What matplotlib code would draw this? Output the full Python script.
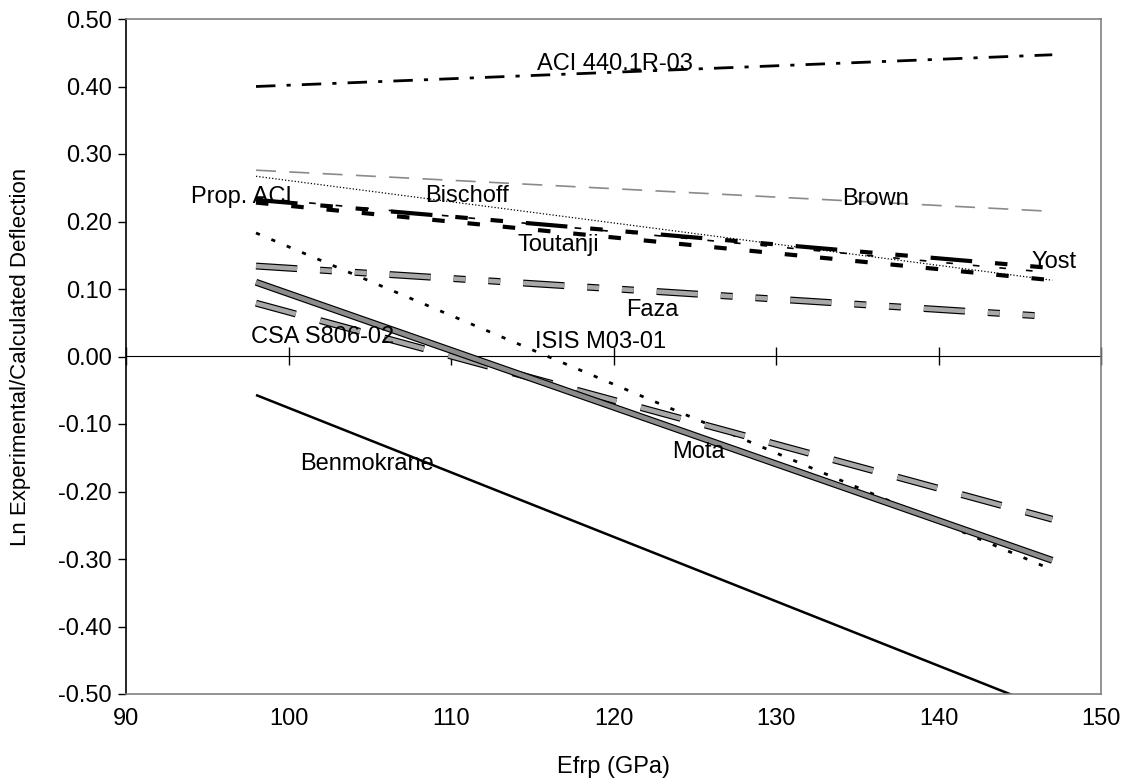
import matplotlib
matplotlib.use("Agg")
import matplotlib.pyplot as plt
import matplotlib.patheffects as pe
import numpy as np

plt.rcParams["font.family"] = ["Liberation Sans", "DejaVu Sans"]
plt.rcParams["axes.unicode_minus"] = False

# Efrp (GPa) at the two ends of every line
efrp = [98, 147]

# Ln(experimental / calculated deflection)
aci_440 = [0.400, 0.447]
brown = [0.276, 0.215]
bischoff = [0.267, 0.113]
prop_aci = [0.235, 0.124]
yost = [0.232, 0.131]
toutanji = [0.228, 0.113]
isis = [0.183, -0.316]
faza = [0.134, 0.059]
mota = [0.110, -0.302]
csa = [0.079, -0.241]
benmokrane = [-0.057, -0.525]

x_ticks = [90, 100, 110, 120, 130, 140, 150]
y_ticks = [-0.5, -0.4, -0.3, -0.2, -0.1, 0.0, 0.1, 0.2, 0.3, 0.4, 0.5]

W, H = 1133, 783
fig = plt.figure(figsize=(W / 100, H / 100), dpi=100)
ax = fig.add_axes([126 / W, 1 - 694 / H, (1101 - 126) / W, (694 - 19) / H])

hatched = [pe.Stroke(linewidth=5.0, foreground="black"), pe.Normal()]


def line(y, color="black", lw=1.5, dashes=None, effects=None):
    ln, = ax.plot(efrp, y, color=color, lw=lw, solid_capstyle="butt",
                  dash_capstyle="butt")
    if dashes is not None:
        ln.set_dashes(dashes)
    if effects is not None:
        ln.set_path_effects(effects)
    return ln


line(aci_440, lw=2.0, dashes=(7, 4, 1.5, 4))
line(brown, color="#8a8a8a", lw=1.2, dashes=(12, 8))
line(bischoff, lw=0.9, dashes=(1, 1.6))
line(prop_aci, lw=1.2, dashes=(4, 12))
line(yost, lw=3.0, dashes=(10, 5.5, 3, 5.5, 3, 5.5))
line(toutanji, lw=3.0, dashes=(3, 5.5))
line(isis, lw=2.0, dashes=(1.5, 4.5))
line(faza, color="#a8a8a8", lw=3.3, dashes=(9, 5, 2.6, 5, 2.6, 5), effects=hatched)
line(csa, color="#a8a8a8", lw=3.3, dashes=(9, 5.5), effects=hatched)
line(mota, color="#8c8c8c", lw=3.3, effects=hatched)
line(benmokrane, lw=1.8)

labels = [
    ("ACI 440.1R-03", 120.1, 0.433),
    ("Brown", 136.1, 0.233),
    ("Bischoff", 111.0, 0.238),
    ("Prop. ACI", 97.1, 0.236),
    ("Toutanji", 116.6, 0.165),
    ("Yost", 147.1, 0.140),
    ("Faza", 122.4, 0.069),
    ("ISIS M03-01", 119.2, 0.021),
    ("CSA S806-02", 102.1, 0.029),
    ("Mota", 125.2, -0.141),
    ("Benmokrane", 104.8, -0.159),
]
for text, lx, ly in labels:
    ax.text(lx, ly, text, fontsize=17, ha="center", va="center", zorder=5)

ax.set_xlim(90, 150)
ax.set_ylim(-0.5, 0.5)
ax.set_xticks(x_ticks)
ax.set_yticks(y_ticks)
ax.set_yticklabels([f"{v:.2f}" for v in y_ticks])
ax.tick_params(axis="x", length=0, labelsize=17, pad=10)
ax.tick_params(axis="y", direction="out", length=6, width=1, labelsize=17, pad=4)

for side in ["top", "right", "bottom"]:
    ax.spines[side].set_color("#808080")
    ax.spines[side].set_linewidth(1.2)
ax.spines["left"].set_color("black")
ax.spines["left"].set_linewidth(1.2)

# horizontal axis crossing at zero, with crossing tick marks
zero_axis = ax.secondary_xaxis(0.5)
zero_axis.set_xticks(x_ticks)
zero_axis.set_xticklabels([])
zero_axis.tick_params(direction="inout", length=13, width=1,
                      labelbottom=False, labeltop=False)
zero_axis.spines["bottom"].set_linewidth(1.0)

ax.set_xlabel("Efrp (GPa)", fontsize=17)
ax.set_ylabel("Ln Experimental/Calculated Deflection", fontsize=16)
ax.xaxis.set_label_coords(0.5, -0.092)
ax.yaxis.set_label_coords(-0.097, 0.5)

fig.savefig("out.png", dpi=100, facecolor="white")
